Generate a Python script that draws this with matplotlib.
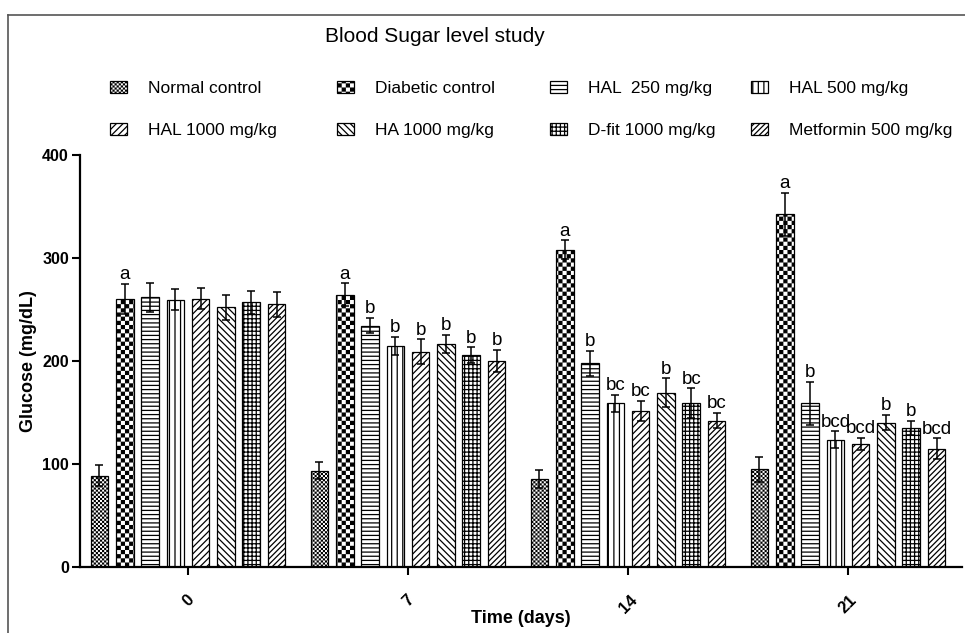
import numpy as np
import matplotlib
matplotlib.use("Agg")
import matplotlib.pyplot as plt
import matplotlib.hatch as mhatch
from matplotlib.path import Path
from matplotlib.lines import Line2D

# ---------------- data ----------------
days = ["0", "7", "14", "21"]
series_names = ["Normal control", "Diabetic control", "HAL  250 mg/kg", "HAL 500 mg/kg",
                "HAL 1000 mg/kg", "HA 1000 mg/kg", "D-fit 1000 mg/kg", "Metformin 500 mg/kg"]

normal = [88.6, 93.5, 85.5, 95.0]
diabetic = [260.5, 264.4, 308.0, 342.5]
hal250 = [261.8, 234.4, 197.6, 158.9]
hal500 = [259.6, 214.7, 158.9, 123.7]
hal1000 = [260.5, 209.0, 151.5, 119.2]
ha1000 = [252.0, 216.6, 169.2, 140.2]
dfit = [257.0, 205.7, 158.9, 134.7]
metformin = [255.0, 200.0, 142.2, 115.0]

normal_err = [10, 8, 9, 12]
diabetic_err = [14.5, 11, 9, 21]
hal250_err = [14, 7.5, 12, 21]
hal500_err = [10, 9, 8, 8]
hal1000_err = [10, 12, 10, 6]
ha1000_err = [12, 8.5, 14, 7.5]
dfit_err = [11, 7.5, 14.5, 7]
metformin_err = [12, 11, 7.5, 10]

normal_sig = ["", "", "", ""]
diabetic_sig = ["a", "a", "a", "a"]
hal250_sig = ["", "b", "b", "b"]
hal500_sig = ["", "b", "bc", "bcd"]
hal1000_sig = ["", "b", "bc", "bcd"]
ha1000_sig = ["", "b", "b", "b"]
dfit_sig = ["", "b", "bc", "b"]
metformin_sig = ["", "b", "bc", "bcd"]

means = [normal, diabetic, hal250, hal500, hal1000, ha1000, dfit, metformin]
errs = [normal_err, diabetic_err, hal250_err, hal500_err, hal1000_err, ha1000_err, dfit_err, metformin_err]
sigs = [normal_sig, diabetic_sig, hal250_sig, hal500_sig, hal1000_sig, ha1000_sig, dfit_sig, metformin_sig]


# ---------------- checkerboard hatch (replaces '*' stars) ----------------
class CheckerHatch(mhatch.HatchPatternBase):
    filled = True

    def __init__(self, hatch, density):
        n = hatch.count('*') * density
        if n % 2:
            n += 1
        self.n = n
        self.num_vertices = (n * n // 2) * 5 if n else 0

    def set_vertices_and_codes(self, vertices, codes):
        n = self.n
        s = 1.0 / n
        inset = 0.006
        k = 0
        for r in range(n):
            for c in range(n):
                if (r + c) % 2 == 0:
                    x0, y0 = c * s + inset, r * s + inset
                    x1, y1 = (c + 1) * s - inset, (r + 1) * s - inset
                    vertices[k:k + 5] = [(x0, y0), (x1, y0), (x1, y1), (x0, y1), (x0, y0)]
                    codes[k:k + 5] = [Path.MOVETO, Path.LINETO, Path.LINETO, Path.LINETO, Path.CLOSEPOLY]
                    k += 5


mhatch._hatch_types[:] = [h for h in mhatch._hatch_types if h is not mhatch.Stars] + [CheckerHatch]

plt.rcParams['font.family'] = ['Liberation Sans', 'DejaVu Sans']
plt.rcParams['hatch.linewidth'] = 0.9
plt.rcParams['hatch.color'] = 'black'

hatches = ['*' * 8, '*' * 4, '----', '|||', '/////', '\\' * 5, '++++', '//////']

fig = plt.figure(figsize=(9.65, 6.33), dpi=100)
ax = fig.add_axes([80 / 965, 1 - 567 / 633, 882 / 965, (567 - 155) / 633])

x = np.arange(len(days))
pitch = 0.115
width = 0.08
handles = []
for i, (m, e, s, h) in enumerate(zip(means, errs, sigs, hatches)):
    xpos = x + (i - 3.5) * pitch
    b = ax.bar(xpos, m, width, color='white', edgecolor='black', linewidth=0.9,
               hatch=h, zorder=2, label=series_names[i])
    handles.append(b)
    ax.errorbar(xpos, m, yerr=e, fmt='none', ecolor='black', elinewidth=1.1,
                capsize=3.2, capthick=1.1, zorder=3)
    for xx, mm, ee, ss in zip(xpos, m, e, s):
        if ss:
            ax.annotate(ss, xy=(xx, mm + ee), xytext=(0, 0.5), textcoords='offset points',
                        ha='center', va='bottom', fontsize=13.5)

ax.set_xlim(-0.491, 3.518)
ax.set_ylim(0, 400)
ax.set_yticks([0, 100, 200, 300, 400])
ax.set_xticks(x)
ax.set_xticklabels(days, rotation=45, ha='center', va='top', fontweight='bold', fontsize=12)
for lab in ax.get_yticklabels():
    lab.set_fontweight('bold')
    lab.set_fontsize(11.5)
ax.tick_params(axis='both', direction='out', length=6, width=1.5, pad=2)
ax.tick_params(axis='x', pad=12)
for sp in ['top', 'right']:
    ax.spines[sp].set_visible(False)
for sp in ['left', 'bottom']:
    ax.spines[sp].set_linewidth(1.6)
ax.set_xlabel('Time (days)', fontweight='bold', fontsize=13, labelpad=-4)
ax.set_ylabel('Glucose (mg/dL)', fontweight='bold', fontsize=13, labelpad=4)

# title
fig.text(435 / 965, 1 - 36 / 633, 'Blood Sugar level study', ha='center', va='center', fontsize=15)

# legend: four columns of two rows
col_x = [110, 337, 550, 751]
col_items = [(0, 4), (1, 5), (2, 6), (3, 7)]
for cx, (a, b2) in zip(col_x, col_items):
    leg = fig.legend([handles[a], handles[b2]], [series_names[a], series_names[b2]],
                     loc='upper left', bbox_to_anchor=(cx / 965, 1 - 81 / 633),
                     frameon=False, fontsize=12.5, handlelength=1.0, handleheight=0.7,
                     handletextpad=1.2, labelspacing=1.55, borderpad=0, borderaxespad=0)

# figure frame lines (top and left)
fig.add_artist(Line2D([8 / 965, 1], [1 - 15 / 633, 1 - 15 / 633], transform=fig.transFigure,
                      color='#555555', linewidth=1.2))
fig.add_artist(Line2D([8 / 965, 8 / 965], [0, 1 - 15 / 633], transform=fig.transFigure,
                      color='#555555', linewidth=1.2))

fig.savefig('out.png', dpi=100)
